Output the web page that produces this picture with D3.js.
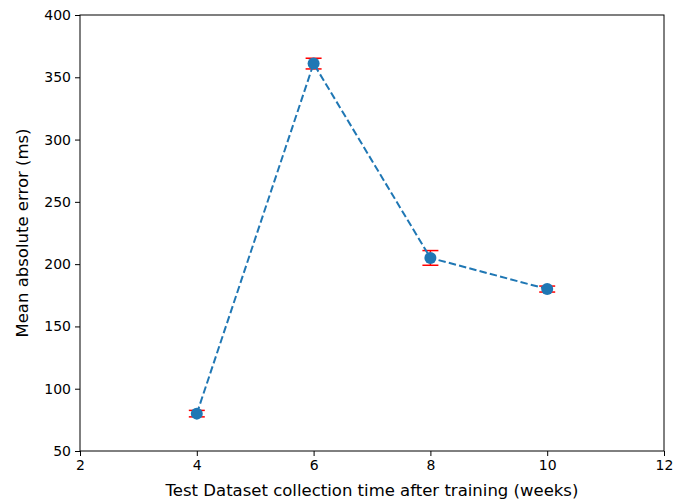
<!DOCTYPE html>
<html>
<head>
<meta charset="utf-8">
<script src="https://cdn.jsdelivr.net/npm/d3@7"></script>
<style>
  body { margin: 0; background: #fff; }
  svg { display: block; }
</style>
</head>
<body>
<div id="chart"></div>
<script>
(function() {
  'use strict';

  // data
  var weeks = [4, 6, 8, 10];
  var maeValues = [80, 361, 205, 180];
  var errValues = [2.6, 4.3, 5.9, 2.4];
  var xTicks = [2, 4, 6, 8, 10, 12];
  var yTicks = [50, 100, 150, 200, 250, 300, 350, 400];

  var width = 675, height = 501;
  var margin = { top: 15, right: 11, bottom: 50, left: 80 };
  var innerW = width - margin.left - margin.right;
  var innerH = height - margin.top - margin.bottom;
  var font = '"DejaVu Sans", sans-serif';
  var blue = '#1f77b4';

  var svg = d3.select('#chart').append('svg')
    .attr('width', width)
    .attr('height', height);

  var g = svg.append('g')
    .attr('transform', 'translate(' + margin.left + ',' + margin.top + ')');

  var x = d3.scaleLinear().domain([2, 12]).range([0, innerW]);
  var y = d3.scaleLinear().domain([50, 400]).range([innerH, 0]);

  var pts = weeks.map(function(w, i) {
    return { x: w, y: maeValues[i], e: errValues[i] };
  });

  // axes
  var xAxis = g.append('g')
    .attr('transform', 'translate(0,' + innerH + ')')
    .call(d3.axisBottom(x).tickValues(xTicks).tickSize(5).tickPadding(4).tickFormat(d3.format('d')));
  var yAxis = g.append('g')
    .call(d3.axisLeft(y).tickValues(yTicks).tickSize(5).tickPadding(4).tickFormat(d3.format('d')));

  [xAxis, yAxis].forEach(function(a) {
    a.select('.domain').remove();
    a.selectAll('.tick line').attr('stroke', '#000').attr('stroke-width', 1);
    a.selectAll('.tick text')
      .attr('fill', '#000')
      .attr('font-family', font)
      .attr('font-size', '14px');
  });

  // frame
  g.append('rect')
    .attr('width', innerW)
    .attr('height', innerH)
    .attr('fill', 'none')
    .attr('stroke', '#000')
    .attr('stroke-width', 1);

  // error bars
  var eb = g.append('g').selectAll('g').data(pts).enter().append('g');
  eb.append('line')
    .attr('x1', function(d) { return x(d.x); })
    .attr('x2', function(d) { return x(d.x); })
    .attr('y1', function(d) { return y(d.y - d.e); })
    .attr('y2', function(d) { return y(d.y + d.e); })
    .attr('stroke', '#ff0000').attr('stroke-width', 1.5);
  [-1, 1].forEach(function(s) {
    eb.append('line')
      .attr('x1', function(d) { return x(d.x) - 8; })
      .attr('x2', function(d) { return x(d.x) + 8; })
      .attr('y1', function(d) { return y(d.y + s * d.e); })
      .attr('y2', function(d) { return y(d.y + s * d.e); })
      .attr('stroke', '#ff0000').attr('stroke-width', 1.5);
  });

  // dashed line
  var line = d3.line()
    .x(function(d) { return x(d.x); })
    .y(function(d) { return y(d.y); });
  g.append('path')
    .datum(pts)
    .attr('d', line)
    .attr('fill', 'none')
    .attr('stroke', blue)
    .attr('stroke-width', 2)
    .attr('stroke-dasharray', '7.4,3.2');

  // markers
  g.append('g').selectAll('circle').data(pts).enter().append('circle')
    .attr('cx', function(d) { return x(d.x); })
    .attr('cy', function(d) { return y(d.y); })
    .attr('r', 6)
    .attr('fill', blue);

  // axis labels
  svg.append('text')
    .attr('x', margin.left + innerW / 2)
    .attr('y', 496)
    .attr('text-anchor', 'middle')
    .attr('font-family', font)
    .attr('font-size', '16.5px')
    .text('Test Dataset collection time after training (weeks)');

  svg.append('text')
    .attr('transform', 'translate(28,' + (margin.top + innerH / 2) + ') rotate(-90)')
    .attr('text-anchor', 'middle')
    .attr('font-family', font)
    .attr('font-size', '16.5px')
    .text('Mean absolute error (ms)');
})();
</script>
</body>
</html>
